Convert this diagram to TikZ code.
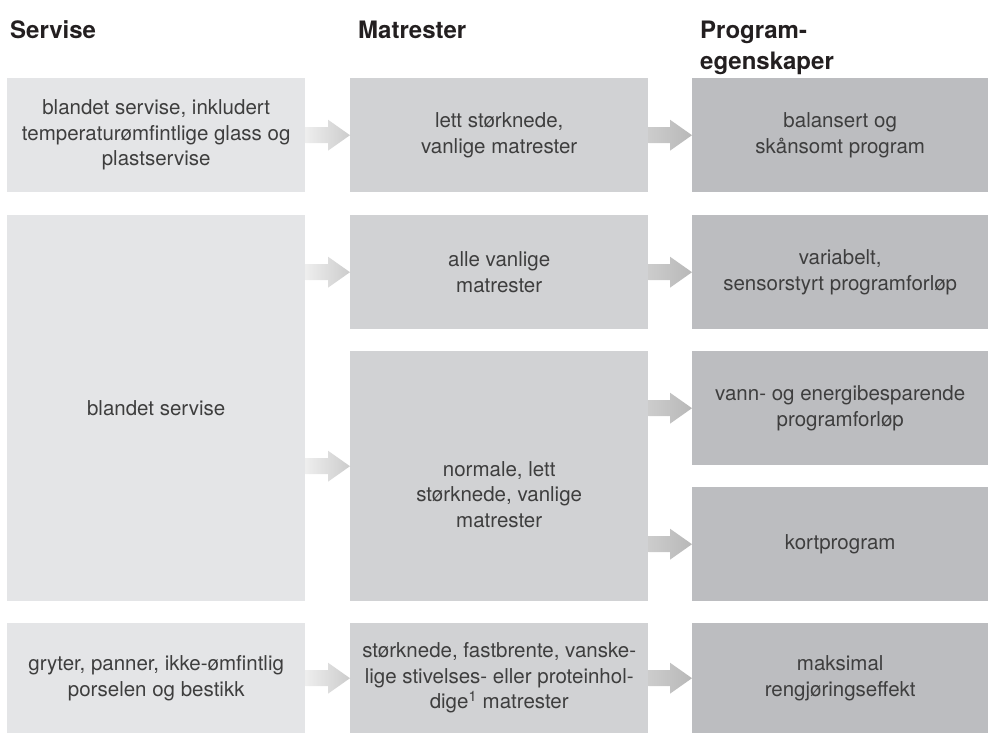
\documentclass[tikz,border=0pt]{standalone}
\usepackage{fontspec}
\setmainfont{TeX Gyre Heros}
\usetikzlibrary{calc}
\definecolor{servGray}{RGB}{228,229,231}
\definecolor{matGray}{RGB}{209,210,212}
\definecolor{progGray}{RGB}{188,189,192}
\definecolor{bodyText}{RGB}{62,62,62}
\definecolor{headText}{RGB}{35,31,32}
\definecolor{flowLight}{RGB}{238,238,238}
\definecolor{flowMid}{RGB}{204,204,204}
\definecolor{flowDark}{RGB}{184,184,184}
\newcommand{\BodySize}{\fontsize{20.5}{25.5}\selectfont}
\newcommand{\HeadSize}{\fontsize{24}{29}\selectfont\bfseries}
\newcommand{\flowarrow}[3]{%
  \path[#1] let \p1=(#2), \p2=(#3) in
    (\x1,\y2+8pt) -- (\x2-22pt,\y2+8pt) -- (\x2-22pt,\y2+15.5pt) -- (\x2,\y2)
    -- (\x2-22pt,\y2-15.5pt) -- (\x2-22pt,\y2-8pt) -- (\x1,\y2-8pt) -- cycle;}

\begin{document}
\begin{tikzpicture}[
    x=1pt, y=-1pt,
    cell/.style={anchor=north west, minimum width=298pt, minimum height=114pt,
        inner sep=3pt, align=center, text=bodyText, font=\BodySize},
    servcell/.style={cell, fill=servGray},
    matcell/.style={cell, fill=matGray},
    progcell/.style={cell, fill=progGray, minimum width=296pt},
    headline/.style={anchor=base west, inner sep=0pt, text=headText, font=\HeadSize},
    flowA/.style={shade, left color=flowLight, right color=flowMid},
    flowB/.style={shade, left color=flowMid, right color=flowDark}
]
\useasboundingbox (0,0) rectangle (988,733);

\node[headline] (servHead) at (10,39) {Servise};
\node[headline] (matHead) at (358,39) {Matrester};
\node[headline] (progHead) at (700,39) {Program-};
\node[headline] (progHeadTwo) at (700,70) {egenskaper};

\node[servcell] (servA) at (7,78) {blandet servise, inkludert\\temperaturømfintlige glass og\\plastservise};
\node[matcell] (matA) at (350,78) {lett størknede,\\vanlige matrester};
\node[progcell] (progA) at (692,78) {balansert og\\skånsomt program};

\node[servcell, minimum height=386pt] (blandet) at (7,215) {blandet servise};
\node[matcell] (alle) at (350,215) {alle vanlige\\matrester};
\node[progcell] (variabel) at (692,215) {variabelt,\\sensorstyrt programforløp};
\node[matcell, minimum height=250pt] (norm) at (350,351) {};
\node[cell, anchor=center, minimum width=0pt, minimum height=0pt] (normTxt)
    at ([yshift=-18pt]norm.center) {normale, lett\\størknede, vanlige\\matrester};
\node[progcell] (vann) at (692,351) {vann- og energibesparende\\programforløp};
\node[progcell] (kort) at (692,487) {kortprogram};

\node[servcell, minimum height=110pt] (gryter) at (7,623) {gryter, panner, ikke-ømfintlig\\porselen og bestikk};
\node[matcell, minimum height=110pt] (matC) at (350,623) {størknede, fastbrente, vanske-\\lige stivelses- eller proteinhol-\\dige\textsuperscript{1} matrester};
\node[progcell, minimum height=110pt] (progC) at (692,623) {maksimal\\rengjøringseffekt};

\coordinate (normIn) at ([yshift=10pt]norm.west);

\flowarrow{flowA}{servA.east}{matA.west}
\flowarrow{flowB}{matA.east}{progA.west}
\flowarrow{flowA}{blandet.east}{alle.west}
\flowarrow{flowB}{alle.east}{variabel.west}
\flowarrow{flowA}{blandet.east}{normIn}
\flowarrow{flowB}{norm.east}{vann.west}
\flowarrow{flowB}{norm.east}{kort.west}
\flowarrow{flowA}{gryter.east}{matC.west}
\flowarrow{flowB}{matC.east}{progC.west}
\end{tikzpicture}
\end{document}
